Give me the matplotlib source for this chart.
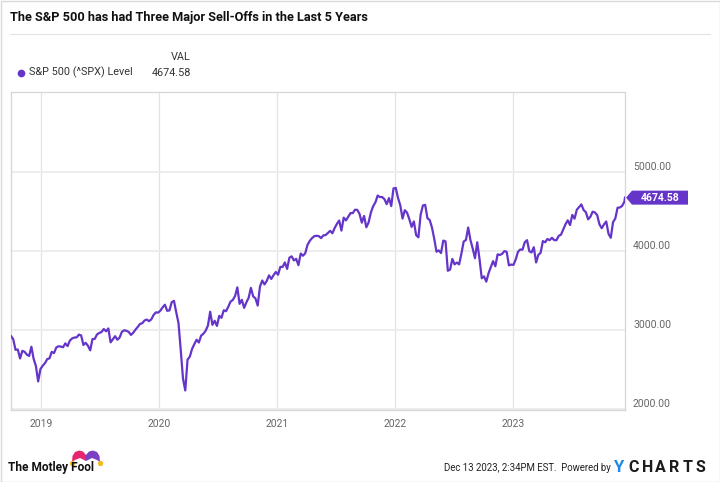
import matplotlib
matplotlib.use("Agg")

import pandas as pd
import matplotlib.pyplot as plt
import matplotlib.dates as mdates
from matplotlib.patches import Polygon, Rectangle

plt.rcParams["font.family"] = ["Roboto", "DejaVu Sans"]

# weekly (Monday) levels of the S&P 500
SPX_2018 = [2924, 2884, 2750, 2755, 2641, 2738, 2726, 2690, 2673, 2790, 2637, 2546, 2351, 2507]
SPX_2019 = [2549, 2582, 2633, 2643, 2725, 2709, 2780, 2796, 2792, 2783, 2832, 2798, 2867,
            2895, 2906, 2908, 2943, 2932, 2812, 2840, 2802, 2744, 2886, 2889, 2945, 2964,
            2976, 3014, 2985, 3021, 2845, 2883, 2923, 2878, 2906, 2979, 2998, 2991, 2977,
            2939, 2966, 3006, 3040, 3078, 3087, 3122, 3133, 3113, 3136, 3191, 3224, 3221]
SPX_2020 = [3246, 3288, 3321, 3244, 3249, 3352, 3370, 3226, 3090, 2747, 2386, 2237, 2627,
            2664, 2762, 2823, 2878, 2843, 2930, 2954, 2992, 3056, 3232, 3067, 3118, 3053,
            3180, 3155, 3251, 3239, 3295, 3360, 3381, 3431, 3540, 3332, 3383, 3281, 3351,
            3408, 3534, 3427, 3401, 3310, 3550, 3627, 3577, 3622, 3692, 3647, 3694, 3735]
SPX_2021 = [3700, 3799, 3799, 3855, 3774, 3915, 3933, 3881, 3901, 3821, 3968, 3940, 3971,
            4077, 4128, 4163, 4187, 4192, 4188, 4163, 4197, 4202, 4227, 4255, 4224, 4291,
            4343, 4385, 4258, 4422, 4387, 4432, 4479, 4479, 4522, 4520, 4468, 4358, 4443,
            4300, 4361, 4486, 4566, 4614, 4701, 4682, 4682, 4655, 4592, 4669, 4568, 4791]
SPX_2022 = [4797, 4670, 4577, 4410, 4516, 4484, 4401, 4305, 4374, 4201, 4173, 4461, 4576,
            4583, 4413, 4392, 4296, 4155, 3991, 4008, 3974, 4132, 4121, 3750, 3765, 3900,
            3831, 3854, 3831, 3966, 4119, 4140, 4297, 4138, 4031, 3909, 4110, 3900, 3655,
            3679, 3613, 3720, 3798, 3872, 3807, 3957, 3950, 3964, 3999, 3990, 3818, 3829]
SPX_2023 = [3824, 3893, 3990, 4019, 4017, 4111, 4137, 3997, 3982, 4048, 3855, 3951, 3977,
            4125, 4110, 4152, 4137, 4167, 4138, 4136, 4192, 4206, 4273, 4338, 4388, 4328,
            4456, 4409, 4522, 4555, 4589, 4518, 4490, 4400, 4433, 4497, 4487, 4453, 4337,
            4288, 4336, 4373, 4217, 4167, 4365, 4411, 4547, 4550, 4569, 4622]
LAST_DATE = "2023-12-13"
LAST_VALUE = 4674.58

YEARS = [2019, 2020, 2021, 2022, 2023]
Y_TICKS = [2000, 3000, 4000, 5000]

PURPLE = "#6535c9"
GREY_TXT = "#666666"

dates = pd.date_range("2018-10-01", "2023-12-11", freq="W-MON")
dates = dates.append(pd.DatetimeIndex([LAST_DATE]))
values = SPX_2018 + SPX_2019 + SPX_2020 + SPX_2021 + SPX_2022 + SPX_2023 + [LAST_VALUE]

W, H = 720, 482
fig = plt.figure(figsize=(W / 100, H / 100), dpi=100)

# overlay in pixel coords for header / footer decorations
deco = fig.add_axes([0, 0, 1, 1])
deco.set_xlim(0, W)
deco.set_ylim(H, 0)
deco.axis("off")

ax = fig.add_axes([11 / W, 1 - 410 / H, 614 / W, 318 / H])
ax.plot(dates, values, color=PURPLE, lw=1.6, solid_joinstyle="round", zorder=3)
ax.set_xlim(dates[0], dates[-1])
ax.set_ylim(1990, 6010)

ax.set_xticks([pd.Timestamp(f"{y}-01-01") for y in YEARS])
ax.set_xticklabels([str(y) for y in YEARS])
ax.yaxis.tick_right()
ax.set_yticks(Y_TICKS)
ax.set_yticklabels([f"{v:.2f}" for v in Y_TICKS])
for lab in ax.get_yticklabels():
    lab.set_va("bottom")

ax.tick_params(length=0, colors=GREY_TXT, labelsize=7.5)
ax.tick_params(axis="x", pad=6.5)
ax.tick_params(axis="y", pad=5.8)
ax.xaxis.grid(True, color="#e3e3e3", lw=0.9)
ax.yaxis.grid(True, color="#ececec", lw=1.3)
ax.set_axisbelow(True)
for s in ax.spines.values():
    s.set_color("#d6d6d6")
    s.set_linewidth(0.9)

# header
deco.text(10, 17, "The S&P 500 has had Three Major Sell-Offs in the Last 5 Years",
          fontsize=9.2, fontweight="bold", color="#111111", ha="left", va="center")
deco.plot([10, 710], [33.5, 33.5], color="#e2e2e2", lw=0.8)
deco.text(191, 56.5, "VAL", fontsize=7.8, color="#333333", ha="right", va="center")
deco.plot([20.5], [72.5], "o", color=PURPLE, ms=4.5)
deco.text(29, 72.5, "S&P 500 (^SPX) Level", fontsize=7.8, color="#333333", ha="left", va="center")
deco.text(191, 72.5, f"{LAST_VALUE:.2f}", fontsize=7.8, color="#333333", ha="right", va="center")

# last value badge
x0, y0 = ax.transData.transform((mdates.date2num(dates[-1]), values[-1]))
px, py = x0 + 1, H - y0
deco.add_patch(Polygon([(px, py), (px + 6, py - 7), (px + 62, py - 7),
                        (px + 62, py + 7), (px + 6, py + 7)],
                       closed=True, facecolor=PURPLE, edgecolor="none"))
deco.text(px + 34, py, f"{LAST_VALUE:.2f}", fontsize=7.5, fontweight="bold",
          color="white", ha="center", va="center")

# footer: Motley Fool logo
deco.add_patch(Polygon([(72, 462), (72.5, 456), (75, 452), (79, 450.5), (83, 451.5),
                        (86, 455), (86, 461), (80, 458), (75, 460)],
                       closed=True, facecolor="#e5266f", edgecolor="none"))
deco.add_patch(Polygon([(86, 461), (86, 455), (89, 451.5), (93, 450.5), (97, 452),
                        (99.5, 456), (100, 462), (97, 460), (92, 458)],
                       closed=True, facecolor="#7b3fc4", edgecolor="none"))
deco.plot([72, 100], [463, 463], "o", color="#f5b921", ms=2.8, lw=0)
deco.text(8, 467.5, "The Motley Fool", fontsize=8.6, fontweight="bold", color="#111111",
          ha="left", va="center")

# footer: timestamp + ycharts
deco.text(611, 468, "Dec 13 2023, 2:34PM EST.  Powered by", fontsize=6.9, color="#222222",
          ha="right", va="center")
deco.text(613, 468, "Y", fontsize=12, fontweight="bold", color="#1d8ae8", ha="left", va="center")
for i, ch in enumerate("CHARTS"):
    deco.text(628 + i * 13.6, 468, ch, fontsize=11.5, fontweight="bold", color="#1c1c1c",
              ha="left", va="center")

deco.add_patch(Rectangle((0.5, 0.5), W - 1, H - 1, facecolor="none", edgecolor="#d9d9d9", lw=1))

fig.savefig("out.png", dpi=100)
